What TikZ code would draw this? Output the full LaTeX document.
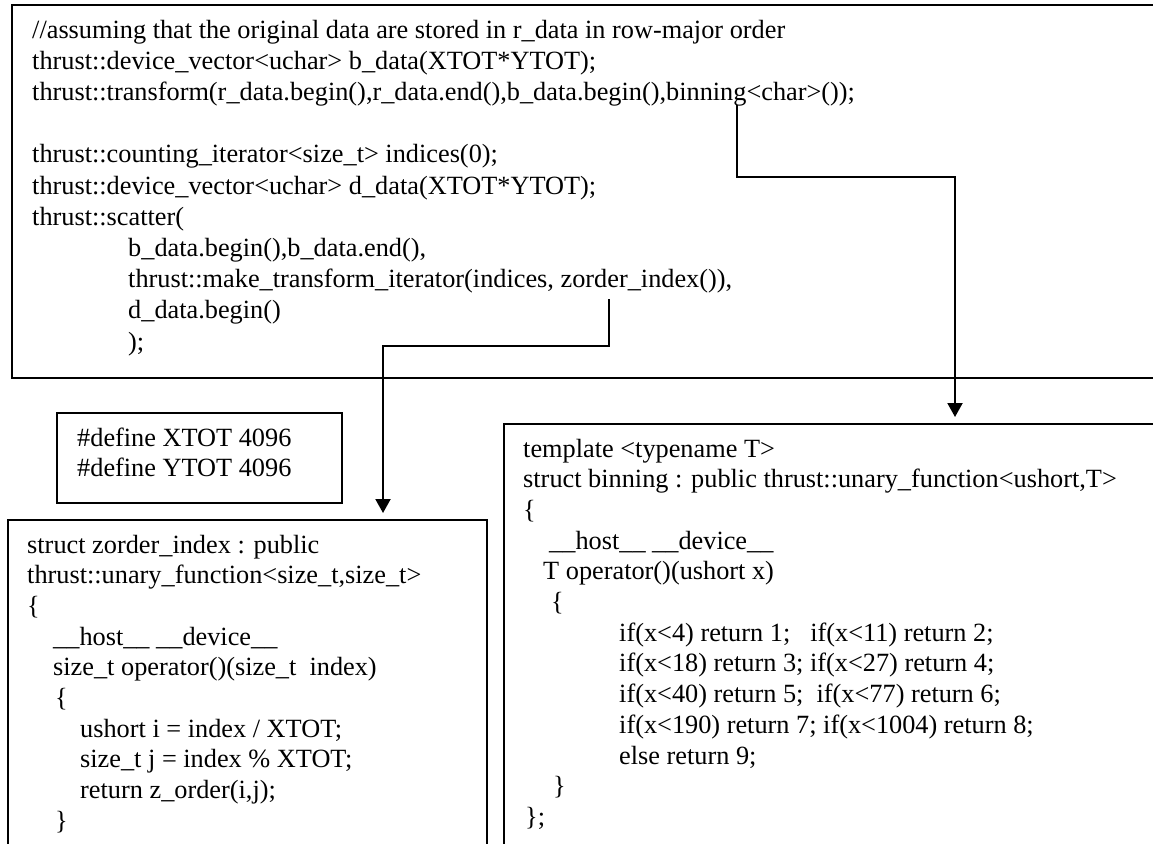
\documentclass[tikz,border=0pt]{standalone}
\usepackage{fontspec}
\setmainfont{Liberation Serif}
\usetikzlibrary{arrows.meta}
\begin{document}
\begin{tikzpicture}[x=1pt,y=-1pt,
  code/.style={anchor=base west, inner sep=0pt, font=\fontsize{26.3}{31}\selectfont},
  box/.style={draw, line width=2pt, anchor=north west, inner sep=0pt},
  conn/.style={line width=2pt, -{Triangle[width=15pt,length=14pt]}, shorten >=6pt}]
\useasboundingbox (0,0) rectangle (1153,843);
\clip (0,0) rectangle (1153,843);
\fill[white] (0,0) rectangle (1153,843);
% boxes
\node[box, minimum width=1170pt, minimum height=373pt] (topbox) at (11,4) {};
\node[box, minimum width=285pt, minimum height=90pt] (defbox) at (56,412) {};
\node[box, minimum width=479pt, minimum height=360pt] (zbox) at (7,519) {};
\node[box, minimum width=680pt, minimum height=450pt] (bbox) at (503,423) {};
% top box text
\node[code] (t1) at (32,38) {//assuming that the original data are stored in r\_data in row-major order};
\node[code] (t2) at (32,69.2) {thrust::device\_vector<uchar> b\_data(XTOT*YTOT);};
\node[code] (t3) at (32,100.4) {thrust::transform(r\_data.begin(),r\_data.end(),b\_data.begin(),binning<char>());};
\node[code] (t5) at (32,162.8) {thrust::counting\_iterator<size\_t> indices(0);};
\node[code] (t6) at (32,194) {thrust::device\_vector<uchar> d\_data(XTOT*YTOT);};
\node[code] (t7) at (32,225.2) {thrust::scatter(};
\node[code] (t8) at (128,256.4) {b\_data.begin(),b\_data.end(),};
\node[code] (t9) at (128,287.6) {thrust::make\_transform\_iterator(indices, zorder\_index()),};
\node[code] (t10) at (128,318.8) {d\_data.begin()};
\node[code] (t11) at (128,350) {);};
% define box text
\node[code] (d1) at (77,446) {\#define XTOT 4096};
\node[code] (d2) at (77,476) {\#define YTOT 4096};
% zorder box text
\node[code] (z1) at (27,553) {struct zorder\_index : public};
\node[code] (z2) at (27,583.7) {thrust::unary\_function<size\_t,size\_t>};
\node[code] (z3) at (27,614.4) {\{};
\node[code] (z4) at (53,645.1) {\_\_host\_\_ \_\_device\_\_};
\node[code] (z5) at (53,675.8) {size\_t operator()(size\_t\hspace{6.6pt} index)};
\node[code] (z6) at (55,706.5) {\{};
\node[code] (z7) at (80,737.2) {ushort i = index / XTOT;};
\node[code] (z8) at (80,767.9) {size\_t j = index \% XTOT;};
\node[code] (z9) at (80,798.6) {return z\_order(i,j);};
\node[code] (z10) at (55,829.3) {\}};
% binning box text
\node[code] (b1) at (523,457) {template <typename T>};
\node[code] (b2) at (523,487.7) {struct binning : public thrust::unary\_function<ushort,T>};
\node[code] (b3) at (523,518.4) {\{};
\node[code] (b4) at (549,549.1) {\_\_host\_\_ \_\_device\_\_};
\node[code] (b5) at (543,579.8) {T operator()(ushort x)};
\node[code] (b6) at (551,610.5) {\{};
\node[code] (b7) at (619,641.2) {if(x<4) return 1;\hspace{20pt}if(x<11) return 2;};
\node[code] (b8) at (619,671.9) {if(x<18) return 3; if(x<27) return 4;};
\node[code] (b9) at (619,702.6) {if(x<40) return 5;\hspace{6.6pt} if(x<77) return 6;};
\node[code] (b10) at (619,733.3) {if(x<190) return 7; if(x<1004) return 8;};
\node[code] (b11) at (619,764) {else return 9;};
\node[code] (b12) at (553,794.7) {\}};
\node[code] (b13) at (525,825.4) {\};};
% connectors
\coordinate (bs) at (737,105);
\coordinate (bt) at (955,177);
\draw[conn] (bs) |- (bt) -- (bbox.north -| bt);
\coordinate (zs) at (609,299);
\coordinate (zt) at (383,346);
\draw[conn] (zs) |- (zt) -- (zbox.north -| zt);
\end{tikzpicture}
\end{document}
